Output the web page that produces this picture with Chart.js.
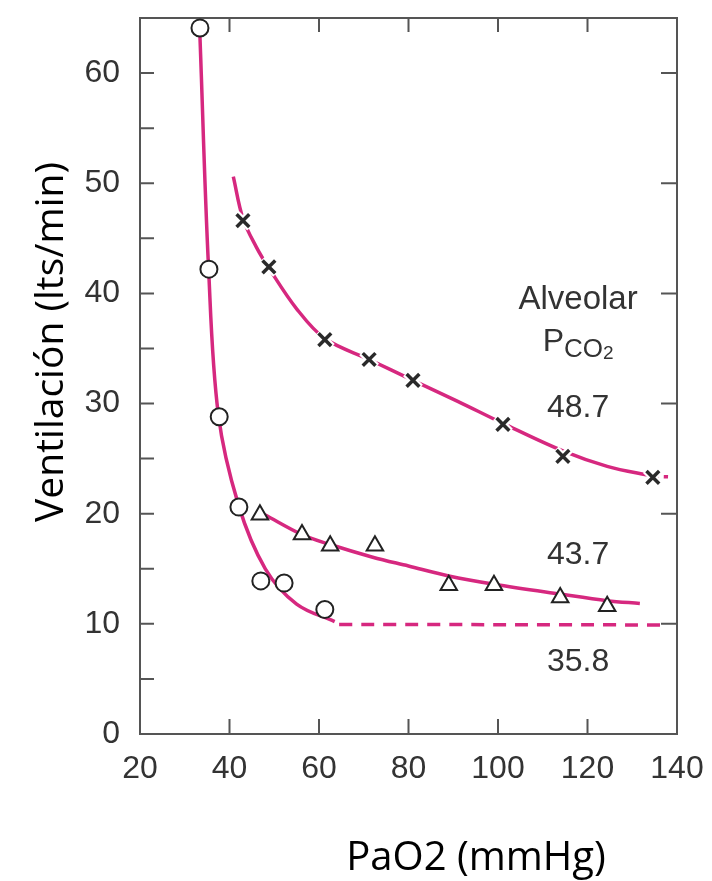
<!DOCTYPE html>
<html>
  <head>
    <title>Ventilación vs PaO2</title>
    <script src="https://cdn.jsdelivr.net/npm/chart.js"></script>
    <style>
      body { margin: 0; background: #fff; }
    </style>
  </head>
  <body>
    <canvas id="myChart" width="712" height="881"></canvas>
    <script>
      // tick labels
      const xTicks = [20, 40, 60, 80, 100, 120, 140];
      const yTicks = [0, 10, 20, 30, 40, 50, 60];
      const yMinor = [5, 15, 25, 35, 45, 55];

      // measured points (PaO2, ventilation)
      const circleX = [33.4, 35.4, 37.7, 42.1, 47.0, 52.2, 61.3];
      const circleY = [64.1, 42.2, 28.8, 20.6, 13.9, 13.7, 11.3];
      const triX = [46.8, 56.2, 62.5, 72.5, 89.0, 99.1, 113.9, 124.4];
      const triY = [19.9, 18.1, 17.1, 17.1, 13.5, 13.5, 12.4, 11.6];
      const crossX = [43.0, 48.8, 61.3, 71.2, 81.0, 101.1, 114.5, 134.6];
      const crossY = [46.6, 42.4, 35.8, 34.0, 32.1, 28.1, 25.2, 23.3];

      // fitted curves
      const curve358X = [33.4, 35.3, 37.5, 42.0, 48.0, 55.0, 63.5];
      const curve358Y = [63.3, 42.5, 29.0, 20.8, 15.0, 11.8, 10.2];
      const dash358X = [64.5, 136.2];
      const dash358Y = [9.95, 9.9];
      const curve437X = [47.9, 56.2, 62.5, 72.0, 80.0, 89.0, 99.1, 113.9, 124.4, 131.7];
      const curve437Y = [19.9, 18.1, 17.2, 16.05, 15.25, 14.35, 13.6, 12.7, 12.1, 11.85];
      const curve487X = [40.85, 43.0, 46.0, 48.8, 55.0, 61.3, 71.2, 81.0, 91.0, 101.1, 114.5, 124.4, 134.6];
      const curve487Y = [50.6, 46.8, 44.2, 42.3, 38.6, 35.9, 34.0, 32.1, 30.2, 28.2, 25.7, 24.3, 23.4];
      const dash487X = [134.6, 138.0];
      const dash487Y = [23.4, 23.35];

      const pts = (xs, ys) => xs.map((x, i) => ({ x: x, y: ys[i] }));

      const magenta = "#d6287f";
      const axisGray = "#555";

      const frame = {
        id: "frame",
        beforeDatasetsDraw(chart) {
          const { ctx, chartArea: a, scales } = chart;
          const x = scales.x, y = scales.y;
          ctx.save();
          ctx.strokeStyle = axisGray;
          ctx.lineWidth = 2;
          ctx.beginPath();
          yTicks.concat(yMinor).forEach((v) => {
            const py = y.getPixelForValue(v);
            ctx.moveTo(a.left, py);
            ctx.lineTo(a.left + 14, py);
          });
          yTicks.slice(1).forEach((v) => {
            const py = y.getPixelForValue(v);
            ctx.moveTo(a.right, py);
            ctx.lineTo(a.right - 16, py);
          });
          xTicks.slice(1, -1).forEach((v) => {
            const px = x.getPixelForValue(v);
            ctx.moveTo(px, a.bottom);
            ctx.lineTo(px, a.bottom - 15);
            ctx.moveTo(px, a.top);
            ctx.lineTo(px, a.top + 14);
          });
          ctx.stroke();
          ctx.strokeRect(a.left, a.top, a.right - a.left, a.bottom - a.top);
          ctx.restore();
        },
        afterDraw(chart) {
          const { ctx, scales } = chart;
          const x = scales.x, y = scales.y;
          ctx.save();
          ctx.fillStyle = "#333";
          ctx.textAlign = "center";
          ctx.textBaseline = "middle";
          ctx.font = "33px 'Liberation Sans', Arial, sans-serif";
          const cx = x.getPixelForValue(117.9);
          ctx.fillText("Alveolar", cx, y.getPixelForValue(39.4));
          ctx.font = "32px 'Liberation Sans', Arial, sans-serif";
          ctx.fillText("48.7", cx, y.getPixelForValue(29.6));
          ctx.fillText("43.7", cx, y.getPixelForValue(16.2));
          ctx.fillText("35.8", cx, y.getPixelForValue(6.5));

          // P with subscript CO2
          const base = y.getPixelForValue(34.8);
          ctx.textAlign = "left";
          ctx.textBaseline = "alphabetic";
          const fP = "32px 'Liberation Sans', Arial, sans-serif";
          const fCO = "26px 'Liberation Sans', Arial, sans-serif";
          const f2 = "19px 'Liberation Sans', Arial, sans-serif";
          ctx.font = fP; const wP = ctx.measureText("P").width;
          ctx.font = fCO; const wCO = ctx.measureText("CO").width;
          ctx.font = f2; const w2 = ctx.measureText("2").width;
          let px = cx - (wP + wCO + w2) / 2;
          ctx.font = fP; ctx.fillText("P", px, base); px += wP;
          ctx.font = fCO; ctx.fillText("CO", px, base + 6); px += wCO;
          ctx.font = f2; ctx.fillText("2", px, base + 8);

          // axis titles
          ctx.fillStyle = "#000";
          ctx.textAlign = "center";
          ctx.font = "40px 'Open Sans', sans-serif";
          ctx.fillText("PaO2 (mmHg)", 476, 870);
          ctx.translate(63, 342);
          ctx.rotate(-Math.PI / 2);
          ctx.font = "39px 'Open Sans', sans-serif";
          ctx.fillText("Ventilación (lts/min)", 0, 0);
          ctx.restore();
        },
      };

      const curve = (xs, ys, dash) => ({
        data: pts(xs, ys),
        showLine: true,
        borderColor: magenta,
        borderWidth: 3.5,
        borderDash: dash || [],
        pointRadius: 0,
        tension: 0.35,
        fill: false,
        order: 3,
      });

      const config = {
        type: "line",
        data: {
          datasets: [
            {
              label: "35.8",
              data: pts(circleX, circleY),
              showLine: false,
              pointStyle: "circle",
              pointRadius: 8.5,
              pointBackgroundColor: "#fff",
              pointBorderColor: "#222",
              pointBorderWidth: 2,
              clip: false,
              order: 0,
            },
            {
              label: "43.7",
              data: pts(triX, triY),
              showLine: false,
              pointStyle: "triangle",
              pointRadius: 9.5,
              pointBackgroundColor: "#fff",
              pointBorderColor: "#222",
              pointBorderWidth: 2,
              clip: false,
              order: 0,
            },
            {
              label: "48.7",
              data: pts(crossX, crossY),
              showLine: false,
              pointStyle: "crossRot",
              pointRadius: 9,
              pointBorderColor: "#2a2a2a",
              pointBorderWidth: 3.5,
              clip: false,
              order: 0,
            },
            {
              label: "halo",
              data: pts(crossX, crossY),
              showLine: false,
              pointStyle: "crossRot",
              pointRadius: 10,
              pointBorderColor: "#fff",
              pointBorderWidth: 8,
              clip: false,
              order: 1,
            },
            curve(curve358X, curve358Y),
            curve(dash358X, dash358Y, [13, 9]),
            curve(curve437X, curve437Y),
            curve(curve487X, curve487Y),
            curve(dash487X, dash487Y, [6, 5]),
          ],
        },
        options: {
          responsive: false,
          animation: false,
          events: [],
          layout: { padding: { top: 10, right: 35, left: 0, bottom: 0 } },
          plugins: {
            legend: { display: false },
            tooltip: { enabled: false },
          },
          scales: {
            x: {
              type: "linear",
              min: 20,
              max: 140,
              grid: { display: false },
              border: { display: false },
              ticks: {
                autoSkip: false,
                maxRotation: 0,
                padding: 8,
                color: "#333",
                font: { family: "'Liberation Sans', Arial, sans-serif", size: 32 },
              },
              afterBuildTicks: (s) => { s.ticks = xTicks.map((v) => ({ value: v })); },
              afterFit: (s) => { s.height = 147; s.paddingLeft = 0; s.paddingRight = 0; },
            },
            y: {
              type: "linear",
              min: 0,
              max: 65,
              grid: { display: false },
              border: { display: false },
              ticks: {
                autoSkip: false,
                padding: 12,
                color: "#333",
                font: { family: "'Liberation Sans', Arial, sans-serif", size: 32 },
              },
              afterBuildTicks: (s) => { s.ticks = yTicks.map((v) => ({ value: v })); },
              afterFit: (s) => { s.width = 140; s.paddingTop = 0; s.paddingBottom = 0; },
            },
          },
        },
        plugins: [frame],
      };

      var myChart = new Chart(document.getElementById("myChart"), config);
    </script>
  </body>
</html>
